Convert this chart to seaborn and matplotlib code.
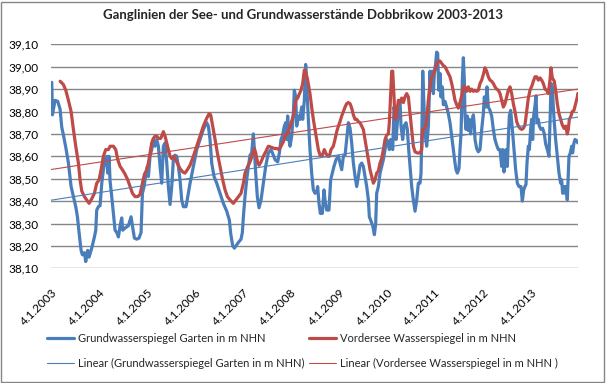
import pandas as pd
import numpy as np
import matplotlib
matplotlib.use("Agg")
import matplotlib.pyplot as plt
from matplotlib.patches import Rectangle
from matplotlib.ticker import FuncFormatter, MultipleLocator
import seaborn as sns

# ========================= DATEN =========================
# Zeit als Dezimaljahr, Werte in m NHN
gw_jahr = [
    2003.024, 2003.038, 2003.093, 2003.149, 2003.198, 2003.232, 2003.267, 2003.316, 2003.371, 2003.427,
    2003.475, 2003.524, 2003.559, 2003.593, 2003.635, 2003.663, 2003.704, 2003.732, 2003.774, 2003.802,
    2003.857, 2003.913, 2003.941, 2003.961, 2003.996, 2004.031, 2004.066, 2004.100, 2004.135, 2004.170,
    2004.191, 2004.218, 2004.239, 2004.274, 2004.309, 2004.343, 2004.378, 2004.413, 2004.448, 2004.482,
    2004.503, 2004.552, 2004.621, 2004.677, 2004.705, 2004.746, 2004.795, 2004.843, 2004.885, 2004.913,
    2004.948, 2004.989, 2005.017, 2005.038, 2005.072, 2005.107, 2005.142, 2005.177, 2005.211, 2005.246,
    2005.281, 2005.315, 2005.350, 2005.385, 2005.420, 2005.454, 2005.489, 2005.524, 2005.558, 2005.593,
    2005.628, 2005.663, 2005.697, 2005.732, 2005.767, 2005.822, 2005.871, 2005.906, 2005.975, 2006.045,
    2006.114, 2006.183, 2006.253, 2006.288, 2006.322, 2006.357, 2006.406, 2006.461, 2006.531, 2006.600,
    2006.670, 2006.725, 2006.753, 2006.795, 2006.829, 2006.878, 2006.912, 2006.968, 2006.996, 2007.017,
    2007.051, 2007.086, 2007.121, 2007.156, 2007.190, 2007.225, 2007.246, 2007.274, 2007.308, 2007.343,
    2007.385, 2007.433, 2007.482, 2007.537, 2007.593, 2007.642, 2007.676, 2007.732, 2007.767, 2007.801,
    2007.829, 2007.871, 2007.899, 2007.919, 2007.940, 2007.968, 2007.989, 2008.024, 2008.058, 2008.079,
    2008.107, 2008.128, 2008.162, 2008.197, 2008.232, 2008.253, 2008.287, 2008.315, 2008.336, 2008.371,
    2008.405, 2008.440, 2008.475, 2008.510, 2008.544, 2008.565, 2008.593, 2008.621, 2008.662, 2008.697,
    2008.718, 2008.753, 2008.801, 2008.836, 2008.871, 2008.905, 2008.948, 2008.997, 2009.031, 2009.066,
    2009.101, 2009.136, 2009.170, 2009.205, 2009.240, 2009.274, 2009.309, 2009.344, 2009.379, 2009.413,
    2009.448, 2009.483, 2009.517, 2009.552, 2009.587, 2009.622, 2009.642, 2009.670, 2009.712, 2009.747,
    2009.774, 2009.795, 2009.830, 2009.865, 2009.899, 2009.934, 2009.969, 2010.004, 2010.038, 2010.059,
    2010.087, 2010.108, 2010.129, 2010.156, 2010.177, 2010.198, 2010.226, 2010.247, 2010.281, 2010.302,
    2010.337, 2010.365, 2010.406, 2010.434, 2010.462, 2010.490, 2010.524, 2010.559, 2010.594, 2010.629,
    2010.663, 2010.698, 2010.719, 2010.740, 2010.754, 2010.781, 2010.802, 2010.837, 2010.872, 2010.906,
    2010.927, 2010.955, 2010.976, 2010.996, 2011.024, 2011.045, 2011.066, 2011.087, 2011.115, 2011.135,
    2011.163, 2011.184, 2011.219, 2011.253, 2011.288, 2011.323, 2011.358, 2011.392, 2011.427, 2011.448,
    2011.476, 2011.510, 2011.531, 2011.552, 2011.580, 2011.601, 2011.621, 2011.635, 2011.656, 2011.684,
    2011.705, 2011.726, 2011.753, 2011.774, 2011.809, 2011.830, 2011.844, 2011.878, 2011.913, 2011.948,
    2011.983, 2012.017, 2012.038, 2012.066, 2012.094, 2012.121, 2012.156, 2012.191, 2012.226, 2012.260,
    2012.295, 2012.330, 2012.365, 2012.399, 2012.420, 2012.448, 2012.469, 2012.490, 2012.517, 2012.538,
    2012.559, 2012.587, 2012.622, 2012.656, 2012.691, 2012.726, 2012.760, 2012.802, 2012.830, 2012.858,
    2012.885, 2012.906, 2012.927, 2012.955, 2012.976, 2013.003, 2013.024, 2013.045, 2013.066, 2013.094,
    2013.115, 2013.135, 2013.163, 2013.184, 2013.219, 2013.253, 2013.288, 2013.316, 2013.351, 2013.385,
    2013.413, 2013.427, 2013.455, 2013.476, 2013.496, 2013.524, 2013.559, 2013.594, 2013.628, 2013.649,
    2013.670, 2013.698, 2013.719, 2013.739, 2013.767, 2013.788, 2013.802, 2013.830, 2013.858, 2013.878,
    2013.906, 2013.927, 2013.962, 2013.985,
]
gw_wert = [
    38.93, 38.785, 38.85, 38.845, 38.81, 38.73, 38.695, 38.64, 38.57, 38.465,
    38.42, 38.375, 38.33, 38.26, 38.18, 38.16, 38.17, 38.13, 38.18, 38.15,
    38.19, 38.24, 38.27, 38.36, 38.375, 38.38, 38.48, 38.54, 38.585, 38.60,
    38.525, 38.60, 38.49, 38.42, 38.345, 38.27, 38.26, 38.24, 38.29, 38.325,
    38.27, 38.28, 38.29, 38.33, 38.29, 38.235, 38.23, 38.235, 38.26, 38.435,
    38.465, 38.525, 38.555, 38.51, 38.60, 38.63, 38.675, 38.645, 38.675, 38.645,
    38.555, 38.48, 38.645, 38.66, 38.57, 38.465, 38.385, 38.465, 38.585, 38.605,
    38.60, 38.555, 38.495, 38.405, 38.375, 38.375, 38.435, 38.48, 38.555, 38.63,
    38.675, 38.72, 38.75, 38.735, 38.675, 38.57, 38.51, 38.48, 38.435, 38.39,
    38.355, 38.315, 38.255, 38.20, 38.19, 38.205, 38.215, 38.23, 38.26, 38.33,
    38.42, 38.495, 38.555, 38.605, 38.615, 38.70, 38.63, 38.525, 38.42, 38.37,
    38.405, 38.48, 38.555, 38.615, 38.63, 38.605, 38.585, 38.575, 38.615, 38.675,
    38.69, 38.735, 38.75, 38.675, 38.78, 38.675, 38.645, 38.69, 38.79, 38.895,
    38.865, 38.735, 38.78, 38.765, 38.82, 38.765, 38.85, 39.01, 38.925, 38.765,
    38.63, 38.525, 38.45, 38.435, 38.44, 38.465, 38.39, 38.345, 38.345, 38.45,
    38.405, 38.36, 38.36, 38.495, 38.525, 38.555, 38.585, 38.60, 38.57, 38.54,
    38.60, 38.605, 38.675, 38.75, 38.725, 38.66, 38.57, 38.51, 38.465, 38.51,
    38.56, 38.57, 38.555, 38.51, 38.465, 38.405, 38.33, 38.315, 38.29, 38.25,
    38.30, 38.435, 38.465, 38.525, 38.555, 38.585, 38.63, 38.675, 38.66, 38.63,
    38.675, 38.645, 38.63, 38.82, 38.79, 38.675, 38.75, 38.83, 38.85, 38.735,
    38.675, 38.735, 38.75, 38.72, 38.63, 38.555, 38.465, 38.405, 38.355, 38.405,
    38.48, 38.48, 38.525, 38.75, 38.98, 38.82, 38.70, 38.645, 38.735, 38.98,
    38.895, 38.98, 38.88, 38.97, 39.015, 39.065, 39.06, 38.895, 38.97, 38.865,
    38.91, 38.83, 38.845, 38.82, 38.79, 38.75, 38.69, 38.63, 38.57, 38.54,
    38.525, 38.545, 38.63, 38.70, 38.94, 39.04, 38.94, 38.78, 38.72, 38.78,
    38.715, 38.765, 38.70, 38.75, 38.785, 38.735, 38.675, 38.635, 38.62, 38.63,
    38.72, 38.79, 38.865, 38.82, 38.91, 38.82, 38.805, 38.78, 38.72, 38.675,
    38.65, 38.63, 38.63, 38.555, 38.63, 38.53, 38.565, 38.63, 38.555, 38.675,
    38.78, 38.805, 38.72, 38.63, 38.54, 38.48, 38.465, 38.465, 38.40, 38.45,
    38.465, 38.475, 38.57, 38.645, 38.63, 38.72, 38.765, 38.675, 38.78, 38.825,
    38.87, 38.75, 38.765, 38.735, 38.72, 38.725, 38.70, 38.655, 38.63, 38.60,
    38.795, 38.925, 38.91, 38.82, 38.75, 38.675, 38.60, 38.525, 38.48, 38.495,
    38.435, 38.465, 38.435, 38.465, 38.405, 38.525, 38.60, 38.615, 38.645, 38.615,
    38.66, 38.675, 38.67, 38.66,
]

see_jahr = [
    2003.198, 2003.267, 2003.316, 2003.371, 2003.427, 2003.475, 2003.524, 2003.579, 2003.614, 2003.649,
    2003.704, 2003.753, 2003.802, 2003.857, 2003.913, 2003.961, 2004.010, 2004.052, 2004.100, 2004.149,
    2004.204, 2004.239, 2004.309, 2004.357, 2004.399, 2004.448, 2004.496, 2004.552, 2004.607, 2004.656,
    2004.705, 2004.760, 2004.816, 2004.864, 2004.913, 2004.955, 2005.003, 2005.038, 2005.072, 2005.107,
    2005.142, 2005.177, 2005.211, 2005.246, 2005.295, 2005.315, 2005.350, 2005.385, 2005.420, 2005.454,
    2005.489, 2005.524, 2005.558, 2005.593, 2005.628, 2005.663, 2005.697, 2005.753, 2005.801, 2005.850,
    2005.906, 2005.975, 2006.045, 2006.114, 2006.183, 2006.253, 2006.302, 2006.336, 2006.378, 2006.427,
    2006.475, 2006.531, 2006.586, 2006.635, 2006.684, 2006.739, 2006.808, 2006.878, 2006.912, 2006.968,
    2007.017, 2007.051, 2007.107, 2007.156, 2007.204, 2007.246, 2007.274, 2007.315, 2007.343, 2007.385,
    2007.433, 2007.482, 2007.537, 2007.607, 2007.662, 2007.711, 2007.760, 2007.801, 2007.850, 2007.885,
    2007.919, 2007.968, 2008.010, 2008.037, 2008.079, 2008.107, 2008.149, 2008.176, 2008.218, 2008.253,
    2008.287, 2008.315, 2008.357, 2008.405, 2008.440, 2008.475, 2008.510, 2008.544, 2008.579, 2008.614,
    2008.662, 2008.704, 2008.732, 2008.774, 2008.808, 2008.843, 2008.891, 2008.926, 2008.962, 2008.997,
    2009.031, 2009.066, 2009.101, 2009.136, 2009.170, 2009.205, 2009.240, 2009.274, 2009.309, 2009.344,
    2009.379, 2009.413, 2009.448, 2009.483, 2009.517, 2009.552, 2009.587, 2009.622, 2009.656, 2009.691,
    2009.726, 2009.760, 2009.795, 2009.830, 2009.865, 2009.899, 2009.934, 2009.969, 2010.004, 2010.038,
    2010.059, 2010.087, 2010.108, 2010.129, 2010.156, 2010.177, 2010.212, 2010.247, 2010.281, 2010.316,
    2010.351, 2010.385, 2010.420, 2010.455, 2010.490, 2010.524, 2010.559, 2010.594, 2010.642, 2010.698,
    2010.733, 2010.754, 2010.802, 2010.836, 2010.871, 2010.906, 2010.941, 2010.976, 2011.010, 2011.045,
    2011.080, 2011.115, 2011.149, 2011.184, 2011.219, 2011.253, 2011.288, 2011.323, 2011.358, 2011.392,
    2011.427, 2011.462, 2011.496, 2011.531, 2011.566, 2011.601, 2011.635, 2011.670, 2011.705, 2011.740,
    2011.774, 2011.809, 2011.844, 2011.878, 2011.913, 2011.948, 2011.983, 2012.017, 2012.052, 2012.087,
    2012.121, 2012.156, 2012.191, 2012.226, 2012.260, 2012.295, 2012.330, 2012.365, 2012.399, 2012.434,
    2012.469, 2012.503, 2012.538, 2012.573, 2012.608, 2012.642, 2012.677, 2012.712, 2012.747, 2012.781,
    2012.816, 2012.851, 2012.885, 2012.920, 2012.955, 2012.990, 2013.030, 2013.060, 2013.094, 2013.128,
    2013.163, 2013.198, 2013.233, 2013.267, 2013.302, 2013.337, 2013.371, 2013.406, 2013.427, 2013.455,
    2013.496, 2013.524, 2013.559, 2013.594, 2013.628, 2013.663, 2013.698, 2013.733, 2013.767, 2013.788,
    2013.809, 2013.844, 2013.871, 2013.906, 2013.941, 2013.976, 2013.985,
]
see_wert = [
    38.935, 38.92, 38.895, 38.85, 38.80, 38.72, 38.645, 38.57, 38.495, 38.445,
    38.42, 38.405, 38.39, 38.41, 38.435, 38.48, 38.495, 38.54, 38.60, 38.63,
    38.63, 38.645, 38.645, 38.63, 38.585, 38.555, 38.54, 38.52, 38.495, 38.465,
    38.435, 38.42, 38.42, 38.43, 38.48, 38.52, 38.54, 38.57, 38.615, 38.66,
    38.68, 38.69, 38.69, 38.68, 38.68, 38.69, 38.71, 38.69, 38.66, 38.63,
    38.60, 38.59, 38.60, 38.59, 38.575, 38.56, 38.545, 38.53, 38.525, 38.54,
    38.56, 38.60, 38.645, 38.69, 38.735, 38.77, 38.79, 38.785, 38.735, 38.675,
    38.615, 38.555, 38.495, 38.45, 38.42, 38.405, 38.39, 38.41, 38.42, 38.435,
    38.48, 38.525, 38.555, 38.575, 38.605, 38.635, 38.615, 38.57, 38.56, 38.575,
    38.60, 38.62, 38.645, 38.64, 38.635, 38.635, 38.63, 38.645, 38.665, 38.69,
    38.70, 38.72, 38.75, 38.765, 38.80, 38.85, 38.86, 38.875, 38.895, 38.925,
    38.985, 38.98, 38.94, 38.88, 38.82, 38.765, 38.72, 38.675, 38.63, 38.605,
    38.605, 38.63, 38.615, 38.60, 38.60, 38.63, 38.645, 38.675, 38.71, 38.735,
    38.755, 38.78, 38.80, 38.82, 38.835, 38.84, 38.835, 38.815, 38.785, 38.765,
    38.765, 38.755, 38.75, 38.735, 38.72, 38.675, 38.63, 38.585, 38.54, 38.51,
    38.48, 38.495, 38.525, 38.535, 38.57, 38.59, 38.63, 38.675, 38.695, 38.70,
    38.75, 38.88, 38.98, 38.98, 38.865, 38.765, 38.79, 38.85, 38.84, 38.86,
    38.84, 38.865, 38.88, 38.865, 38.79, 38.72, 38.645, 38.62, 38.615, 38.615,
    38.63, 38.72, 38.725, 38.76, 38.85, 38.91, 38.955, 38.965, 38.985, 39.01,
    39.025, 39.025, 39.015, 39.005, 39.00, 38.985, 38.97, 38.955, 38.925, 38.89,
    38.85, 38.83, 38.815, 38.84, 38.87, 38.91, 38.91, 38.89, 38.91, 38.89,
    38.90, 38.89, 38.895, 38.89, 38.895, 38.925, 38.94, 38.965, 38.995, 38.98,
    38.955, 38.94, 38.935, 38.925, 38.91, 38.90, 38.895, 38.88, 38.85, 38.82,
    38.835, 38.865, 38.895, 38.91, 38.88, 38.835, 38.80, 38.755, 38.735, 38.725,
    38.72, 38.725, 38.74, 38.80, 38.86, 38.895, 38.915, 38.935, 38.955, 38.955,
    38.94, 38.95, 38.94, 38.925, 38.90, 38.895, 38.88, 38.94, 38.995, 38.95,
    38.935, 38.895, 38.835, 38.79, 38.765, 38.74, 38.725, 38.735, 38.70, 38.72,
    38.765, 38.78, 38.80, 38.805, 38.835, 38.865, 38.88,
]

# lineare Trends (Excel-Trendlinien), Anfangs- und Endwert
trend_jahr = [2003.01, 2013.985]
gw_trend = [38.404, 38.775]
see_trend = [38.541, 38.90]

tick_jahre = list(range(2003, 2014))

TITEL = 'Ganglinien der See- und Grundwasserstände Dobbrikow 2003-2013'
LBL_GW = 'Grundwasserspiegel Garten in m NHN'
LBL_SEE = 'Vordersee Wasserspiegel in m NHN'
LBL_GW_T = 'Linear (Grundwasserspiegel Garten in m NHN)'
LBL_SEE_T = 'Linear (Vordersee Wasserspiegel in m NHN )'

BLAU = '#4A7EBB'
ROT = '#BE4B48'
GRID = '#868686'


def jahr_zu_datum(jahre):
    jahre = np.asarray(jahre, dtype=float)
    return pd.Timestamp('2003-01-01') + pd.to_timedelta((jahre - 2003.0) * 365.25, unit='D')


sns.set_theme(style='white')
plt.rcParams['font.family'] = ['Lato', 'DejaVu Sans']

df_gw = pd.DataFrame({'datum': jahr_zu_datum(gw_jahr), 'wert': gw_wert})
df_see = pd.DataFrame({'datum': jahr_zu_datum(see_jahr), 'wert': see_wert})
df_gw_t = pd.DataFrame({'datum': jahr_zu_datum(trend_jahr), 'wert': gw_trend})
df_see_t = pd.DataFrame({'datum': jahr_zu_datum(trend_jahr), 'wert': see_trend})

fig = plt.figure(figsize=(6.06, 3.83), dpi=100)
ax = fig.add_axes([51 / 606, 1 - 268.3 / 383, 527 / 606, 224 / 383])

stil = dict(solid_joinstyle='round', solid_capstyle='round')
sns.lineplot(data=df_gw, x='datum', y='wert', ax=ax, color=BLAU, lw=2.3, label=LBL_GW, sort=False, **stil)
sns.lineplot(data=df_see, x='datum', y='wert', ax=ax, color=ROT, lw=2.3, label=LBL_SEE, sort=False, **stil)
sns.lineplot(data=df_gw_t, x='datum', y='wert', ax=ax, color=BLAU, lw=0.8, label=LBL_GW_T)
sns.lineplot(data=df_see_t, x='datum', y='wert', ax=ax, color=ROT, lw=0.8, label=LBL_SEE_T)

# Achsen
ax.set_ylim(38.10, 39.10)
ax.yaxis.set_major_locator(MultipleLocator(0.1))
ax.yaxis.set_major_formatter(FuncFormatter(lambda v, p: f'{v:.2f}'.replace('.', ',')))
ax.set_xlim(jahr_zu_datum([2003.01])[0], jahr_zu_datum([2013.99])[0])
ticks = [pd.Timestamp(f'{j}-01-04') for j in tick_jahre]
ax.set_xticks(ticks)
ax.set_xticklabels([f'{t.day}.{t.month}.{t.year}' for t in ticks], rotation=45, ha='right',
                   rotation_mode='anchor')
ax.tick_params(axis='both', length=0, labelsize=8.5, colors='black')
ax.tick_params(axis='y', pad=9)
ax.tick_params(axis='x', pad=13)
ax.grid(axis='y', color=GRID, lw=1.0)
ax.set_axisbelow(True)
for s in ax.spines.values():
    s.set_visible(False)
ax.set_xlabel('')
ax.set_ylabel('')

fig.suptitle(TITEL, x=0.5, y=1 - 9 / 383, fontsize=9.5, fontweight='bold', va='top')

h, l = ax.get_legend_handles_labels()
ax.get_legend().remove()
order = [0, 2, 1, 3]
fig.legend([h[i] for i in order], [l[i] for i in order], ncol=2, frameon=False,
           loc='upper left', bbox_to_anchor=(47 / 606, 1 - 333 / 383), fontsize=8,
           handlelength=2.4, handletextpad=0.35, columnspacing=0.45, labelspacing=1.25,
           borderpad=0, borderaxespad=0)

fig.patches.append(Rectangle((1 / 606, 1 / 383), 603 / 606, 380 / 383, transform=fig.transFigure,
                             fill=False, edgecolor=GRID, lw=1.0))

fig.savefig('out.png', dpi=100)
